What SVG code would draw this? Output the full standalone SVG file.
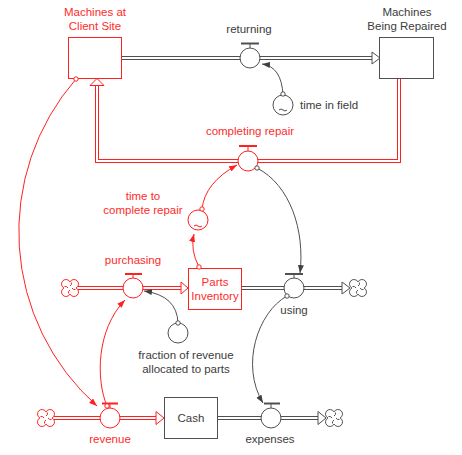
<svg xmlns="http://www.w3.org/2000/svg" width="462" height="455" viewBox="0 0 462 455">
<defs>
<style>
text{font-family:"Liberation Sans",Arial,sans-serif;font-size:11.5px;text-anchor:middle}
.tr{fill:#ff2a2a}
.tg{fill:#3c3c3c}
.pr{fill:none;stroke:#ff2020;stroke-width:4}
.pg{fill:none;stroke:#505050;stroke-width:4}
.pw{fill:none;stroke:#fff;stroke-width:2}
.ah{fill:#fff;stroke-width:1}
.r{stroke:#ff2020}
.g{stroke:#505050}
.box{fill:#fff;stroke-width:1}
.vc{fill:#fff;stroke-width:1}
.br{fill:#ff2020}
.bg{fill:#505050}
.cr{fill:none;stroke:#ff2020;stroke-width:1}
.cg{fill:none;stroke:#505050;stroke-width:1}
.tail{fill:#fff;stroke-width:1}
.cloud{fill:#fff;stroke-width:1}
</style>
<marker id="aR" viewBox="0 0 8 6" refX="8" refY="3" markerWidth="8" markerHeight="6" orient="auto" markerUnits="userSpaceOnUse"><path d="M0,0 L8,3 L0,6 Z" fill="#ff2020"/></marker>
<marker id="aG" viewBox="0 0 8 6" refX="8" refY="3" markerWidth="8" markerHeight="6" orient="auto" markerUnits="userSpaceOnUse"><path d="M0,0 L8,3 L0,6 Z" fill="#404040"/></marker>
<symbol id="cloud" overflow="visible"><path d="M0,-6.06 A4.5,4.5 0 1 1 6.06,0 A4.5,4.5 0 1 1 0,6.06 A4.5,4.5 0 1 1 -6.06,0 A4.5,4.5 0 1 1 0,-6.06 Z M0,-2 Q2,-3 1.5,-5.5 M2,0 Q3,2 5.5,1.5 M0,2 Q-2,3 -1.5,5.5 M-2,0 Q-3,-2 -5.5,-1.5"/></symbol>
</defs>
<rect width="462" height="455" fill="#fff"/>

<g id="flows">
  <!-- returning -->
  <path class="pg" d="M121,58 H373"/><path class="pw" d="M120,58 H374"/>
  <polygon class="ah g" points="372,52 380,58 372,64"/>
  <!-- completing repair -->
  <path class="pr" d="M399,78 V161 H97 V85"/><path class="pw" d="M399,77 V161 H97 V86"/>
  <polygon class="ah r" points="90,85.5 97,78.5 104,85.5"/>
  <!-- purchasing -->
  <path class="pr" d="M78,288 H182"/><path class="pw" d="M77,288 H183"/>
  <polygon class="ah r" points="181,282 188,288 181,294"/>
  <use href="#cloud" x="70" y="288" class="cloud r"/>
  <!-- using -->
  <path class="pg" d="M241,288 H343"/><path class="pw" d="M240,288 H344"/>
  <polygon class="ah g" points="342,282 350,288 342,294"/>
  <use href="#cloud" x="358" y="288" class="cloud g"/>
  <!-- revenue -->
  <path class="pr" d="M54,418 H157"/><path class="pw" d="M53,418 H158"/>
  <polygon class="ah r" points="156,411.5 164,418 156,424.5"/>
  <use href="#cloud" x="46" y="418" class="cloud r"/>
  <!-- expenses -->
  <path class="pg" d="M217,418 H319"/><path class="pw" d="M216,418 H320"/>
  <polygon class="ah g" points="318,411.5 326,418 318,424.5"/>
  <use href="#cloud" x="334" y="418" class="cloud g"/>
</g>

<g id="machines-at-client-site">
  <rect class="box r" x="68.5" y="37.5" width="53" height="41"/>
  <text class="tr" x="95" y="16">Machines at</text>
  <text class="tr" x="95" y="29.5">Client Site</text>
</g>
<g id="machines-being-repaired">
  <rect class="box g" x="379.5" y="37.5" width="54" height="41"/>
  <text class="tg" x="407" y="16">Machines</text>
  <text class="tg" x="407" y="29.5">Being Repaired</text>
</g>
<g id="parts-inventory">
  <rect class="box r" x="188.5" y="268.5" width="53" height="41"/>
  <text class="tr" x="215" y="286">Parts</text>
  <text class="tr" x="215" y="300">Inventory</text>
</g>
<g id="cash">
  <rect class="box g" x="164.5" y="397.5" width="53" height="41"/>
  <text class="tg" x="191" y="422">Cash</text>
</g>

<g id="returning">
  <rect class="bg" x="241" y="42.5" width="18" height="2"/>
  <line class="g" x1="250" y1="44" x2="250" y2="48"/>
  <circle class="vc g" cx="250" cy="58" r="10"/>
  <text class="tg" x="249" y="33">returning</text>
</g>
<g id="completing-repair">
  <rect class="br" x="239" y="145" width="18" height="2"/>
  <line class="r" x1="248" y1="146" x2="248" y2="151"/>
  <circle class="vc r" cx="248" cy="161" r="10"/>
  <text class="tr" x="250" y="135">completing repair</text>
</g>
<g id="purchasing">
  <rect class="br" x="125" y="273" width="17" height="2"/>
  <line class="r" x1="133" y1="274" x2="133" y2="278"/>
  <circle class="vc r" cx="133" cy="288" r="10"/>
  <text class="tr" x="133" y="264">purchasing</text>
</g>
<g id="using">
  <rect class="bg" x="285" y="273" width="18" height="2"/>
  <line class="g" x1="294" y1="274" x2="294" y2="278"/>
  <circle class="vc g" cx="294" cy="288" r="10"/>
  <text class="tg" x="294" y="314">using</text>
</g>
<g id="revenue">
  <rect class="br" x="102" y="402.5" width="16" height="2"/>
  <line class="r" x1="110" y1="404" x2="110" y2="408"/>
  <circle class="vc r" cx="110" cy="418" r="10"/>
  <text class="tr" x="110" y="443">revenue</text>
</g>
<g id="expenses">
  <rect class="bg" x="264" y="402.5" width="16" height="2"/>
  <line class="g" x1="271" y1="404" x2="271" y2="408"/>
  <circle class="vc g" cx="271" cy="418" r="10"/>
  <text class="tg" x="270" y="443">expenses</text>
</g>

<g id="time-in-field">
  <circle class="vc g" cx="283" cy="105" r="10"/>
  <path class="cg" d="M279,110 q2,-2 4,0 q2,2 4,0"/>
  <text class="tg" x="300" y="109" style="text-anchor:start">time in field</text>
</g>
<g id="time-to-complete-repair">
  <circle class="vc r" cx="198" cy="220" r="10"/>
  <path class="cr" d="M194,226 q2,-2 4,0 q2,2 4,0"/>
  <text class="tr" x="143" y="200">time to</text>
  <text class="tr" x="143" y="214">complete repair</text>
</g>
<g id="fraction-of-revenue-allocated-to-parts">
  <circle class="vc g" cx="178" cy="333" r="10"/>
  <text class="tg" x="186" y="359">fraction of revenue</text>
  <text class="tg" x="186" y="373">allocated to parts</text>
</g>

<g id="connectors">
  <path class="cg" d="M283,95 Q281.5,66.5 262,64" marker-end="url(#aG)"/>
  <circle class="tail g" cx="283" cy="94" r="2.2"/>
  <path class="cg" d="M257,168 C290,185 305,230 300,273" marker-end="url(#aG)"/>
  <circle class="tail g" cx="257" cy="168" r="2.2"/>
  <path class="cg" d="M287,296 C258,312 240,365 263,403" marker-end="url(#aG)"/>
  <circle class="tail g" cx="287" cy="296" r="2.2"/>
  <path class="cg" d="M178,323 Q177,295.5 144,291" marker-end="url(#aG)"/>
  <circle class="tail g" cx="178" cy="323" r="2.2"/>
  <path class="cr" d="M107,406 C96,380 96,330 125,300" marker-end="url(#aR)"/>
  <circle class="tail r" cx="107" cy="406" r="2.2"/>
  <path class="cr" d="M76,79 A233,233 0 0 0 97,406" marker-end="url(#aR)"/>
  <circle class="tail r" cx="76" cy="79" r="2.2"/>
  <path class="cr" d="M199,267 Q190,250 194,234" marker-end="url(#aR)"/>
  <circle class="tail r" cx="199" cy="267" r="2.2"/>
  <path class="cr" d="M202,209 Q205,182.5 237,165" marker-end="url(#aR)"/>
  <circle class="tail r" cx="202" cy="209" r="2.2"/>
</g>
</svg>
